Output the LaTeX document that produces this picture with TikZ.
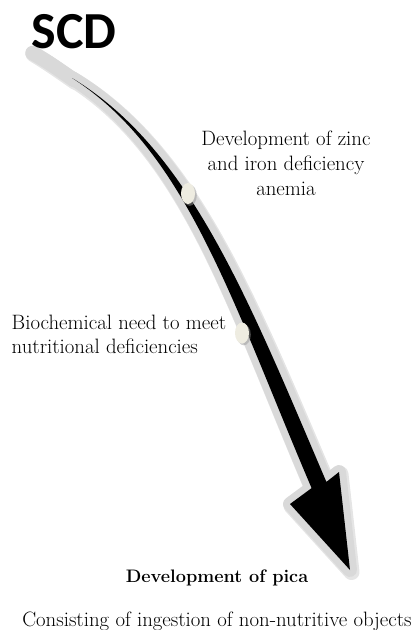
\documentclass[tikz,border=0pt]{standalone}
\usepackage{fontspec}
\newfontfamily\scdfont{Carlito}
\definecolor{bandgray}{HTML}{D9D9D9}
\definecolor{dotfill}{HTML}{EEECE1}
\newcommand\arrowpath{(72,78) .. controls (189.3,148.7) and (247.4,296.9) .. (326.4,481.9) -- (339,472) -- (350,570) -- (290,504) -- (311.6,488.1) .. controls (232.6,303.1) and (186.7,151.3) .. (72,78) -- cycle}
\begin{document}
\begin{tikzpicture}[x=1pt,y=-1pt,
  txt/.style={inner sep=0pt, font=\fontsize{20.8}{25}\selectfont},
  band/.style={draw=bandgray, line width=14pt, line join=round},
  dotshape/.style={fill=dotfill},
  dotshadow/.style={fill=black!40, opacity=0.5}]
\useasboundingbox (0,0) rectangle (416,630);
% soft shadow of the arrow
\path[draw=black!10, fill=black!10, line width=16pt, line join=round, shift={(1.5,2)}] \arrowpath;
\draw[black!10, line width=16pt, line cap=round, shift={(1.5,2)}] (32,52) .. controls (48,62) .. (74,80);
% gray outline and tail
\draw[bandgray, line width=14.5pt, line cap=round] (32.5,53) .. controls (48,62) .. (74,80);
\path[band, fill=bandgray] \arrowpath;
% black arrow body
\fill[black] \arrowpath;
% markers
\fill[dotshadow] (189.8,195.3) ellipse [x radius=7pt, y radius=10.5pt];
\fill[dotshape] (188,193.5) ellipse [x radius=7pt, y radius=10.5pt];
\fill[dotshadow] (243.8,334.8) ellipse [x radius=7pt, y radius=10.5pt];
\fill[dotshape] (242,333) ellipse [x radius=7pt, y radius=10.5pt];
% texts
\node[inner sep=0pt, anchor=base west, font=\scdfont\bfseries\fontsize{52}{52}\selectfont] (scd) at (31.5,48) {SCD};
\node[txt, anchor=north, align=center] (zinc) at (286,130.6) {Development of zinc\\and iron deficiency\\anemia};
\node[txt, anchor=north west, align=left, font=\fontsize{20.8}{24}\selectfont] (bio) at (11.5,315.3) {Biochemical need to meet\\nutritional deficiencies};
\node[inner sep=0pt, anchor=base, font=\bfseries\fontsize{18.1}{21}\selectfont] (pica) at (217,582) {Development of pica};
\node[txt, anchor=base] (cons) at (217,626.5) {Consisting of ingestion of non-nutritive objects};
\end{tikzpicture}
\end{document}
